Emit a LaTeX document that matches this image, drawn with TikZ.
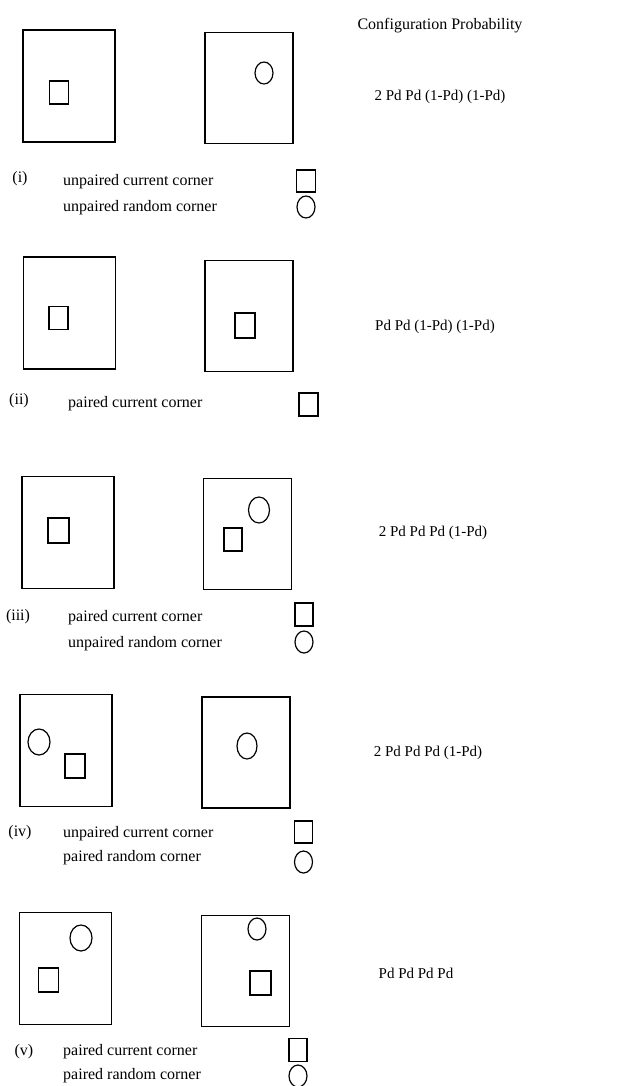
\documentclass[tikz,border=0pt]{standalone}
\usepackage{fontspec}
\setmainfont{Liberation Serif}
\usetikzlibrary{positioning, shapes.geometric}
\tikzset{
  every node/.style={font=\fontsize{16}{18}\selectfont},
  leftcell/.style={draw, line width=1.3pt, minimum width=92pt, minimum height=112pt, inner sep=0},
  rightcell/.style={draw, line width=1.3pt, minimum width=88pt, minimum height=111pt, inner sep=0},
  cur/.style={draw, line width=1.2pt, minimum width=19pt, minimum height=23pt, inner sep=0},
  rnd/.style={draw, ellipse, line width=1.2pt, minimum width=20pt, minimum height=24pt, inner sep=0},
  tag/.style={inner sep=0},
  prob/.style={inner sep=0, font=\fontsize{15}{17}\selectfont},
  lbl/.style={anchor=west, inner sep=0},
}

\begin{document}
\begin{tikzpicture}[x=1pt, y=-1pt]
  \useasboundingbox (0,0) rectangle (641,1086);
  \node[tag] (head) at (440,26) {Configuration Probability};

  % (i)
  \node[leftcell] (L1) at (69,86) {};
  \node[rightcell] (R1) at (249,88) {};
  \node[cur] (L1s) at (59,92.5) {};
  \node[rnd, minimum width=18pt, minimum height=22pt] (R1c) at (264,73) {};
  \node[prob] (p1) at (440,97) {2 Pd Pd (1-Pd) (1-Pd)};
  \node[tag] (n1) at (20,179) {(i)};
  \node[lbl] (a1) at (63,182) {unpaired current corner};
  \node[lbl] (b1) at (63,208) {unpaired random corner};
  \node[cur, minimum width=19pt, minimum height=22pt] (ka1) at (306,181) {};
  \node[rnd, minimum width=18pt, minimum height=22pt] (kb1) at (306,207) {};

  % (ii)
  \node[leftcell] (L2) at (69.5,313) {};
  \node[rightcell] (R2) at (249,316) {};
  \node[cur] (L2s) at (58.5,318) {};
  \node[cur, minimum width=20pt, minimum height=25pt] (R2s) at (245,325.5) {};
  \node[prob] (p2) at (435,327) {Pd Pd (1-Pd) (1-Pd)};
  \node[tag] (n2) at (19,401) {(ii)};
  \node[lbl] (a2) at (68,404) {paired current corner};
  \node[cur, minimum width=19pt, minimum height=23pt] (ka2) at (308.5,404.5) {};

  % (iii)
  \node[leftcell] (L3) at (68,532.5) {};
  \node[rightcell] (R3) at (247.5,534) {};
  \node[cur, minimum width=21pt, minimum height=25pt] (L3s) at (58.5,530.5) {};
  \node[rnd, minimum width=21pt, minimum height=26pt] (R3c) at (259,510) {};
  \node[cur, minimum width=18pt, minimum height=23pt] (R3s) at (233,539.5) {};
  \node[prob] (p3) at (433,533) {2 Pd Pd Pd (1-Pd)};
  \node[tag] (n3) at (18,617) {(iii)};
  \node[lbl] (a3) at (68,618) {paired current corner};
  \node[lbl] (b3) at (68,644) {unpaired random corner};
  \node[cur, minimum width=18pt, minimum height=23pt] (ka3) at (304,614.5) {};
  \node[rnd, minimum width=18pt, minimum height=22pt] (kb3) at (304,642) {};

  % (iv)
  \node[leftcell] (L4) at (66,750.5) {};
  \node[rightcell] (R4) at (246,752.5) {};
  \node[rnd, minimum width=22pt, minimum height=26pt] (L4c) at (39,742) {};
  \node[cur, minimum width=20pt, minimum height=24pt] (L4s) at (75,766) {};
  \node[rnd, minimum width=20pt, minimum height=26pt] (R4c) at (247,746) {};
  \node[prob] (p4) at (428,753) {2 Pd Pd Pd (1-Pd)};
  \node[tag] (n4) at (20,833) {(iv)};
  \node[lbl] (a4) at (63,834) {unpaired current corner};
  \node[lbl] (b4) at (63,858) {paired random corner};
  \node[cur, minimum width=18pt, minimum height=22pt] (ka4) at (303.5,832) {};
  \node[rnd, minimum width=18pt, minimum height=22pt] (kb4) at (303.5,862) {};

  % (v)
  \node[leftcell] (L5) at (65.5,968.5) {};
  \node[rightcell] (R5) at (245.5,971) {};
  \node[rnd, minimum width=22pt, minimum height=26pt] (L5c) at (81,938) {};
  \node[cur, minimum width=20pt, minimum height=24pt] (L5s) at (48.5,980) {};
  \node[rnd, minimum width=18pt, minimum height=22pt] (R5c) at (257,929) {};
  \node[cur, minimum width=21pt, minimum height=24pt] (R5s) at (260.5,983) {};
  \node[prob] (p5) at (416,973) {Pd Pd Pd Pd};
  \node[tag] (n5) at (24,1052) {(v)};
  \node[lbl] (a5) at (63,1052) {paired current corner};
  \node[lbl] (b5) at (63,1076) {paired random corner};
  \node[cur, minimum width=18pt, minimum height=23pt] (ka5) at (298,1050) {};
  \node[rnd, minimum width=18pt, minimum height=22pt] (kb5) at (298,1076) {};
\end{tikzpicture}
\end{document}
